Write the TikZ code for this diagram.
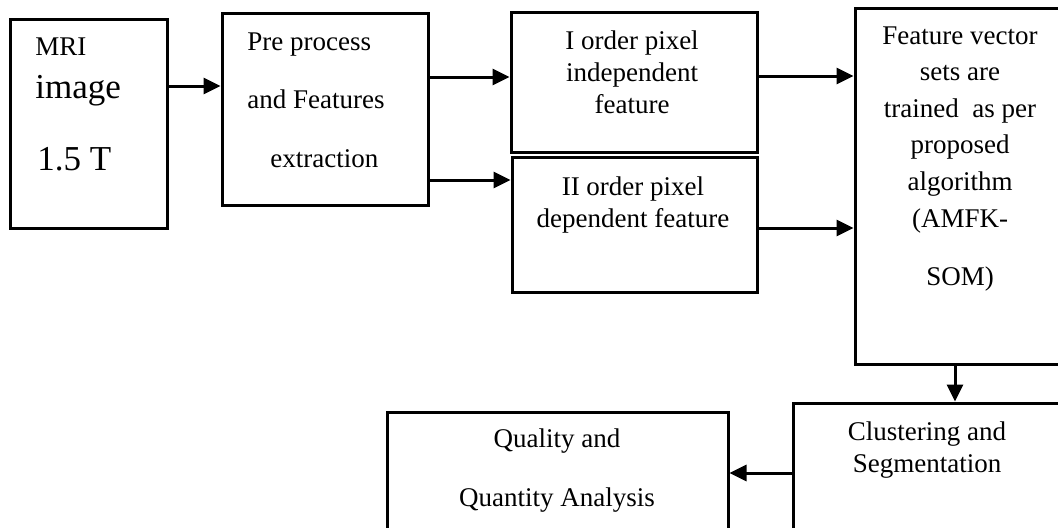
\documentclass[tikz,border=0pt]{standalone}
\usepackage{fontspec}
\setmainfont{Liberation Serif}
\usetikzlibrary{arrows.meta}

\tikzset{
  box/.style={rectangle, draw=black, line width=1.5pt},
  txt/.style={inner sep=0pt, align=center, anchor=base},
  arr/.style={line width=1.5pt, -{Triangle[length=8.5pt,width=8pt]}}
}

\begin{document}
\begin{tikzpicture}[x=0.5pt, y=0.5pt]
\clip (0,0) rectangle (1058,-527);
% boxes
\node (mri) [box, minimum width=78.5pt, minimum height=104.5pt] at (88.5,-123.5) {};
\node (prep) [box, minimum width=103pt, minimum height=96pt] at (325,-109) {};
\node (ford) [box, minimum width=123pt, minimum height=70pt] at (634,-82) {};
\node (sord) [box, minimum width=122.5pt, minimum height=67.5pt] at (634.5,-224.5) {};
\node (train) [box, minimum width=122.5pt, minimum height=178pt] at (977.5,-186) {};
\node (clust) [box, minimum width=153.5pt, minimum height=78.5pt] at (946.5,-481.5) {};
\node (qual) [box, minimum width=170.5pt, minimum height=75pt] at (557.5,-487) {};

% texts (base = last line)
\node (mri1) [txt, anchor=base west, font=\fontsize{13.5}{16}\selectfont] at (35,-55) {MRI};
\node (mri2) [txt, anchor=base west, font=\fontsize{17.5}{20}\selectfont] at (35,-98) {image};
\node (mri3) [txt, anchor=base west, font=\fontsize{17.5}{20}\selectfont] at (37,-170) {1.5 T};
\node (preptxt) [txt, align=left, anchor=base west, font=\fontsize{13.5}{29.25}\selectfont] at (247,-167) {Pre process\\and Features\\\hspace*{11.5pt}extraction};
\node (fordtxt) [txt, font=\fontsize{13.5}{16}\selectfont] at (632,-113) {I order pixel\\independent\\feature};
\node (sordtxt) [txt, font=\fontsize{13.5}{16}\selectfont] at (633,-227) {II order pixel\\dependent feature};
\node (traintxt) [txt, font=\fontsize{13.5}{18.3}\selectfont] at (960,-285) {Feature vector\\sets are\\trained\ \ as per\\proposed\\algorithm\\(AMFK-\\[10.7pt]SOM)};
\node (clusttxt) [txt, font=\fontsize{13.5}{16}\selectfont] at (927,-472) {Clustering and\\Segmentation};
\node (qualtxt) [txt, font=\fontsize{13.5}{29.5}\selectfont] at (557,-506) {Quality and\\Quantity Analysis};

% connectors
\draw[arr] ([yshift=18.75pt]mri.east) coordinate (a1) -- (a1 -| prep.west);
\draw[arr] ([yshift=16pt]prep.east) coordinate (a2) -- (a2 -| ford.west);
\draw[arr] ([yshift=-35.5pt]prep.east) coordinate (a3) -- (a3 -| sord.west);
\draw[arr] ([yshift=3pt]ford.east) coordinate (a4) -- (a4 -| train.west);
\draw[arr] ([yshift=-1.75pt]sord.east) coordinate (a5) -- (a5 -| train.west);
\draw[arr] ([xshift=-11.25pt]train.south) coordinate (a6) -- (a6 |- clust.north);
\draw[arr] ([yshift=4.25pt]clust.west) coordinate (a7) -- (a7 -| qual.east);
\end{tikzpicture}
\end{document}
